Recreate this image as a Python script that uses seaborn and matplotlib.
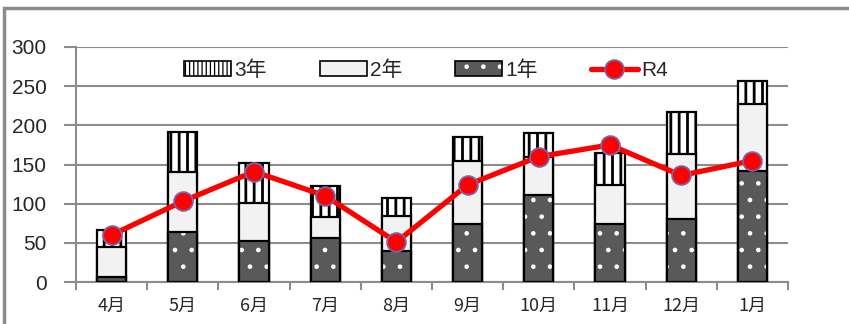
import matplotlib
matplotlib.use("Agg")
import matplotlib.pyplot as plt
import seaborn as sns
import pandas as pd
import numpy as np
from matplotlib.patches import Patch, Rectangle
from matplotlib.lines import Line2D
from matplotlib.legend_handler import HandlerTuple

months = ["4月", "5月", "6月", "7月", "8月", "9月", "10月", "11月", "12月", "1月"]
year1 = [7, 64, 52, 56, 40, 74, 111, 74, 80, 142]
year2 = [38, 77, 49, 27, 44, 81, 49, 50, 83, 85]
year3 = [21, 50, 51, 39, 23, 30, 30, 41, 54, 30]
r4 = [60, 103, 141, 110, 51, 124, 160, 175, 136, 155]

sns.set_theme(style="white")
plt.rcParams["font.family"] = ["Liberation Sans", "Noto Sans CJK JP"]
plt.rcParams["hatch.linewidth"] = 2.0

df = pd.DataFrame({"month": months, "y1": year1, "y2": year2, "y3": year3, "r4": r4})
df["c2"] = df["y1"] + df["y2"]
df["c3"] = df["c2"] + df["y3"]

fig = plt.figure(figsize=(8.49, 3.24), dpi=100)
ax = fig.add_axes([76 / 849, 1 - 282 / 324, (788 - 76) / 849, (282 - 47) / 324])

grey = "#8c8c8c"
bw = 0.41
# 3年 (cumulative total)
sns.barplot(data=df, x="month", y="c3", ax=ax, color="white", edgecolor="black",
            linewidth=1.6, hatch="||", width=bw, saturation=1, zorder=2)
h3 = Patch(facecolor="white", edgecolor="black", hatch="||||", linewidth=1.2)
# 2年 (cumulative)
sns.barplot(data=df, x="month", y="c2", ax=ax, color="#f2f2f2", edgecolor="black",
            linewidth=1.6, width=bw, saturation=1, zorder=3)
# 1年 fill with white dots
plt.rcParams["hatch.linewidth"] = 0.9
sns.barplot(data=df, x="month", y="y1", ax=ax, color="#595959", edgecolor="white",
            linewidth=0, hatch=".", width=bw, saturation=1, zorder=4)
h1a = Patch(facecolor="#595959", edgecolor="white", hatch=".", linewidth=0)
sns.barplot(data=df, x="month", y="y1", ax=ax, facecolor="none", edgecolor="black",
            linewidth=1.6, width=bw, saturation=1, zorder=5, fill=False)

# R4 line
sns.lineplot(data=df, x="month", y="r4", ax=ax, color="#ff0000", linewidth=3.8,
             marker="o", markersize=13.5, markerfacecolor="#ff0000",
             markeredgecolor="#7b63a8", markeredgewidth=1.3, zorder=6, sort=False)

ax.set_xlim(-0.5, len(months) - 0.5)
ax.set_ylim(0, 300)
ax.set_yticks([0, 50, 100, 150, 200, 250, 300])
ax.yaxis.grid(True, color=grey, linewidth=1.5, zorder=0)
ax.set_axisbelow(True)
ax.set_xlabel("")
ax.set_ylabel("")
for s in ["top", "right"]:
    ax.spines[s].set_visible(False)
for s in ["left", "bottom"]:
    ax.spines[s].set_color(grey)
    ax.spines[s].set_linewidth(1.5)

ax.tick_params(axis="y", length=9, width=1.5, color=grey, labelsize=15, pad=12, left=True)
ax.set_xticks(range(len(months)))
ax.set_xticklabels(months, fontfamily=["Noto Sans CJK JP"], fontsize=13)
ax.tick_params(axis="x", length=0, pad=11)
ax.set_xticks(np.arange(-0.5, len(months)), minor=True)
ax.tick_params(axis="x", which="minor", length=6, width=1.5, color=grey, bottom=True)

# legend
h2 = Patch(facecolor="#f2f2f2", edgecolor="black", linewidth=1.2)
h1b = Patch(facecolor="none", edgecolor="black", linewidth=1.2)
hl = Line2D([], [], color="#ff0000", linewidth=3.8, marker="o", markersize=13.5,
            markerfacecolor="#ff0000", markeredgecolor="#7b63a8", markeredgewidth=1.3)
leg = fig.legend([h3, h2, (h1a, h1b), hl], ["3年", "2年", "1年", "R4"],
                 handler_map={tuple: HandlerTuple(ndivide=1, pad=0)},
                 loc="center", bbox_to_anchor=(426 / 849, 1 - 70 / 324), ncol=4,
                 frameon=False, handlelength=2.25, handleheight=0.7,
                 handletextpad=0.15, columnspacing=2.55,
                 prop={"family": ["Liberation Sans", "Noto Sans CJK JP"], "size": 15})

# outer chart border
fig.patches.append(Rectangle((4 / 849, -0.5), 2.0, 0.5 + 1 - 8 / 324, transform=fig.transFigure,
                             fill=False, edgecolor=grey, linewidth=2.5, zorder=0))

fig.savefig("out.png", dpi=100)
